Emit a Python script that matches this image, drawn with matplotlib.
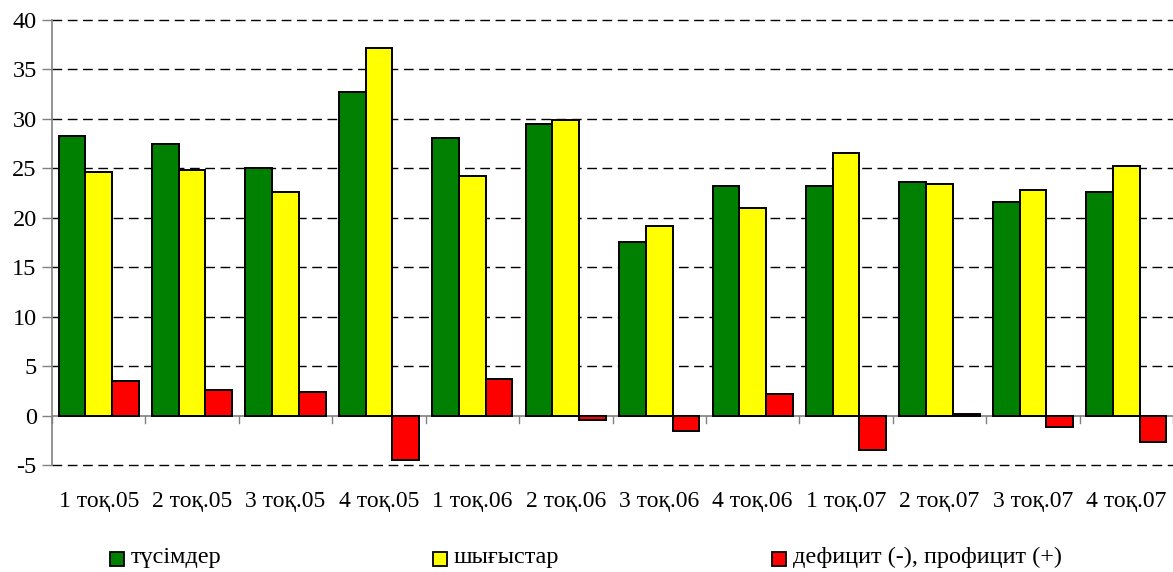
import numpy as np
import matplotlib
matplotlib.use("Agg")
import matplotlib.pyplot as plt
from matplotlib.patches import Rectangle

plt.rcParams['font.family'] = ['Liberation Serif', 'DejaVu Serif']
plt.rcParams['axes.unicode_minus'] = False

# quarters
quarters = ["1 тоқ.05", "2 тоқ.05", "3 тоқ.05", "4 тоқ.05",
            "1 тоқ.06", "2 тоқ.06", "3 тоқ.06", "4 тоқ.06",
            "1 тоқ.07", "2 тоқ.07", "3 тоқ.07", "4 тоқ.07"]
income = [28.3, 27.5, 25.0, 32.7, 28.1, 29.5, 17.6, 23.2, 23.2, 23.6, 21.6, 22.6]
spending = [24.6, 24.8, 22.6, 37.2, 24.2, 29.9, 19.2, 21.0, 26.6, 23.4, 22.8, 25.2]
balance = [3.45, 2.6, 2.4, -4.45, 3.65, -0.4, -1.6, 2.2, -3.45, 0.15, -1.2, -2.65]

series_names = ["түсімдер", "шығыстар", "дефицит (-), профицит (+)"]
colors = ["#008000", "#ffff00", "#ff0000"]

fig = plt.figure(figsize=(11.73, 5.72), dpi=100)
ax = fig.add_axes([52 / 1173, 1 - 465 / 572, 1 - 52 / 1173, 445 / 572])

n = len(quarters)
x = np.arange(n) + 0.5
w = 0.286
for k, vals in enumerate([income, spending, balance]):
    ax.bar(x + (k - 1) * w, vals, width=w, color=colors[k],
           edgecolor="black", linewidth=1.4, zorder=3)

ax.set_xlim(0, n)
ax.set_ylim(-5, 40)
ax.set_yticks(np.arange(-5, 41, 5))
ax.tick_params(axis="y", labelsize=17.5, length=7, color="#808080", width=1, pad=4)

# dashed gridlines (not at zero)
for yv in np.arange(-5, 41, 5):
    if yv != 0:
        ax.axhline(yv, color="black", lw=1, ls=(0, (7, 4)), zorder=1, clip_on=False)

for s in ["top", "right", "bottom"]:
    ax.spines[s].set_visible(False)
ax.spines["left"].set_color("#808080")
ax.spines["left"].set_linewidth(1.2)

# zero axis line with category ticks
ax.axhline(0, color="#808080", lw=1.2, zorder=2)
ax.set_xticks([])
for b in range(n + 1):
    ax.plot([b, b], [0, -0.8], color="#808080", lw=1, zorder=2, clip_on=False)

# category labels below plot
trans = ax.get_xaxis_transform()
for xi, lab in zip(x, quarters):
    ax.text(xi, -0.083, lab, transform=trans, ha="center", va="center", fontsize=17)

# legend drawn by hand
leg_x = [110, 433, 772]
for lx, name, c in zip(leg_x, series_names, colors):
    fig.add_artist(Rectangle((lx / 1173, 1 - 566 / 572), 14 / 1173, 14 / 572,
                             facecolor=c, edgecolor="black", lw=1.3,
                             transform=fig.transFigure))
    fig.text((lx + 21) / 1173, 1 - 557 / 572, name, ha="left", va="center", fontsize=17.5)

fig.savefig("out.png", dpi=100)
